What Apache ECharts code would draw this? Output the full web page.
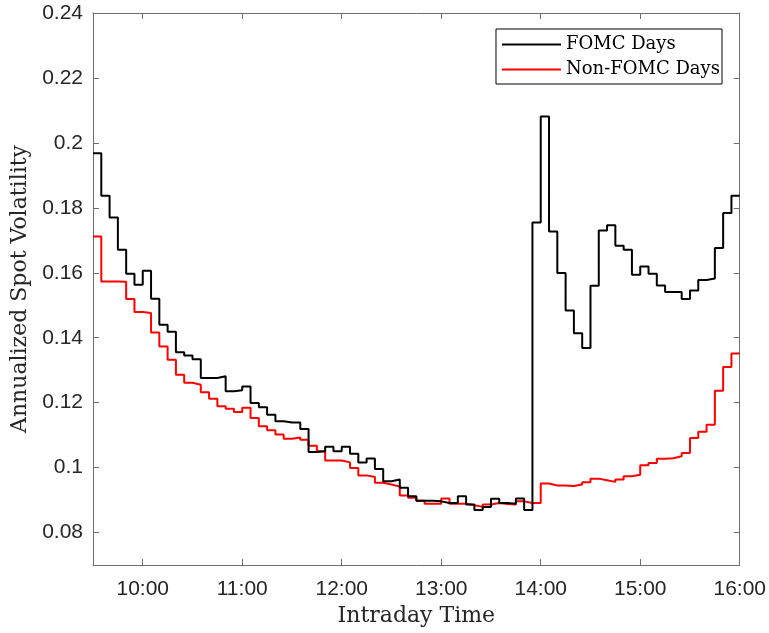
<!DOCTYPE html>
<html>
<head>
<meta charset="utf-8">
<script src="https://cdn.jsdelivr.net/npm/echarts@6/dist/echarts.min.js"></script>
<style>
html,body{margin:0;padding:0;background:#fff;}
#chart{width:769px;height:633px;}
</style>
</head>
<body>
<div id="chart"></div>
<script>
// 5-minute bins from 9:30 to 16:00 (minutes since midnight)
const sessionStart = 570;
const sessionEnd = 960;
const binMinutes = 5;

const fomcDays = [
  0.1968, 0.1837, 0.1770, 0.1671, 0.1597, 0.1563, 0.1606, 0.1520, 0.1440, 0.1418,
  0.1355, 0.1345, 0.1334, 0.1276, 0.1276, 0.1281, 0.1235, 0.1238, 0.1250, 0.1199,
  0.1186, 0.1163, 0.1143, 0.1139, 0.1139, 0.1119, 0.1048, 0.1050, 0.1064, 0.1050,
  0.1064, 0.1043, 0.1016, 0.1028, 0.0996, 0.0958, 0.0963, 0.0938, 0.0912, 0.0898,
  0.0898, 0.0896, 0.0891, 0.0891, 0.0912, 0.0886, 0.0869, 0.0879, 0.0904, 0.0891,
  0.0889, 0.0905, 0.0869, 0.1755, 0.2081, 0.1727, 0.1599, 0.1484, 0.1414, 0.1368,
  0.1560, 0.1730, 0.1746, 0.1683, 0.1671, 0.1594, 0.1619, 0.1597, 0.1561, 0.1541,
  0.1541, 0.1519, 0.1545, 0.1578, 0.1582, 0.1676, 0.1784, 0.1837
];

const nonFomcDays = [
  0.1712, 0.1573, 0.1573, 0.1572, 0.1519, 0.1479, 0.1476, 0.1416, 0.1373, 0.1332,
  0.1286, 0.1261, 0.1255, 0.1232, 0.1212, 0.1189, 0.1181, 0.1171, 0.1184, 0.1153,
  0.1127, 0.1115, 0.1102, 0.1089, 0.1093, 0.1086, 0.1067, 0.1050, 0.1022, 0.1022,
  0.1016, 0.0999, 0.0976, 0.0971, 0.0953, 0.0948, 0.0942, 0.0914, 0.0907, 0.0898,
  0.0889, 0.0889, 0.0905, 0.0889, 0.0889, 0.0884, 0.0879, 0.0886, 0.0891, 0.0888,
  0.0886, 0.0896, 0.0891, 0.0891, 0.0951, 0.0945, 0.0945, 0.0943, 0.0948, 0.0955,
  0.0966, 0.0961, 0.0956, 0.0963, 0.0973, 0.0978, 0.1007, 0.1014, 0.1027, 0.1029,
  0.1035, 0.1045, 0.1091, 0.1110, 0.1132, 0.1237, 0.1310, 0.1351
];

const xTickLabels = ['10:00', '11:00', '12:00', '13:00', '14:00', '15:00', '16:00'];
const yTickValues = [0.08, 0.10, 0.12, 0.14, 0.16, 0.18, 0.20, 0.22, 0.24];

function toMinutes(s) { const p = s.split(':'); return (+p[0]) * 60 + (+p[1]); }
function toLabel(m) { const h = Math.floor(m / 60), mm = m % 60; return h + ':' + (mm < 10 ? '0' : '') + mm; }
const xTickValues = xTickLabels.map(toMinutes);

function stepData(arr) {
  const d = arr.map((v, i) => [sessionStart + binMinutes * i, v]);
  d.push([sessionEnd, arr[arr.length - 1]]);
  return d;
}

const axisColor = '#6e6e6e';
const tickFont = { fontFamily: 'Liberation Sans', fontSize: 21, color: '#262626' };
const serif = 'DejaVu Serif';

const chart = echarts.init(document.getElementById('chart'), null, { renderer: 'canvas' });
chart.setOption({
  animation: false,
  backgroundColor: '#fff',
  grid: { left: 93, right: 29, top: 13, bottom: 68, containLabel: false },
  legend: {
    orient: 'vertical',
    right: 47,
    top: 29,
    backgroundColor: '#fff',
    borderColor: '#000',
    borderWidth: 1,
    borderRadius: 0,
    padding: [5, 2, 4, 6],
    itemGap: 4,
    itemWidth: 59,
    itemHeight: 2,
    icon: 'rect',
    textStyle: { fontFamily: serif, fontSize: 18, lineHeight: 21, color: '#000', fontWeight: 'lighter' },
    data: ['FOMC Days', 'Non-FOMC Days']
  },
  xAxis: [{
    type: 'value',
    min: sessionStart, max: sessionEnd,
    name: 'Intraday Time',
    nameLocation: 'middle',
    nameGap: 40,
    nameTextStyle: { fontFamily: serif, fontSize: 22, color: '#262626', fontWeight: 'lighter' },
    axisLine: { show: true, lineStyle: { color: axisColor, width: 1 } },
    axisTick: { show: true, inside: true, length: 6, customValues: xTickValues, lineStyle: { color: axisColor } },
    axisLabel: Object.assign({ customValues: xTickValues, margin: 14, formatter: v => toLabel(v) }, tickFont),
    splitLine: { show: false }
  }, {
    type: 'value', position: 'top',
    min: sessionStart, max: sessionEnd,
    axisLine: { show: true, lineStyle: { color: axisColor, width: 1 } },
    axisTick: { show: true, inside: true, length: 6, customValues: xTickValues, lineStyle: { color: axisColor } },
    axisLabel: { show: false },
    splitLine: { show: false }
  }],
  yAxis: [{
    type: 'value',
    min: 0.07, max: 0.24,
    name: 'Annualized Spot Volatility',
    nameLocation: 'middle',
    nameGap: 60,
    nameTextStyle: { fontFamily: serif, fontSize: 22, color: '#262626', fontWeight: 'lighter' },
    axisLine: { show: true, lineStyle: { color: axisColor, width: 1 } },
    axisTick: { show: true, inside: true, length: 6, customValues: yTickValues, lineStyle: { color: axisColor } },
    axisLabel: Object.assign({ customValues: yTickValues, margin: 10, formatter: v => String(+v.toFixed(2)) }, tickFont),
    splitLine: { show: false }
  }, {
    type: 'value', position: 'right',
    min: 0.07, max: 0.24,
    axisLine: { show: true, lineStyle: { color: axisColor, width: 1 } },
    axisTick: { show: true, inside: true, length: 6, customValues: yTickValues, lineStyle: { color: axisColor } },
    axisLabel: { show: false },
    splitLine: { show: false }
  }],
  series: [{
    name: 'FOMC Days',
    type: 'line',
    step: 'end',
    showSymbol: false,
    symbol: 'none',
    color: '#000',
    lineStyle: { color: '#000', width: 2 },
    data: stepData(fomcDays),
    z: 3
  }, {
    name: 'Non-FOMC Days',
    type: 'line',
    step: 'end',
    showSymbol: false,
    symbol: 'none',
    color: '#ff0000',
    lineStyle: { color: '#ff0000', width: 2 },
    data: stepData(nonFomcDays),
    z: 2
  }]
});
</script>
</body>
</html>
